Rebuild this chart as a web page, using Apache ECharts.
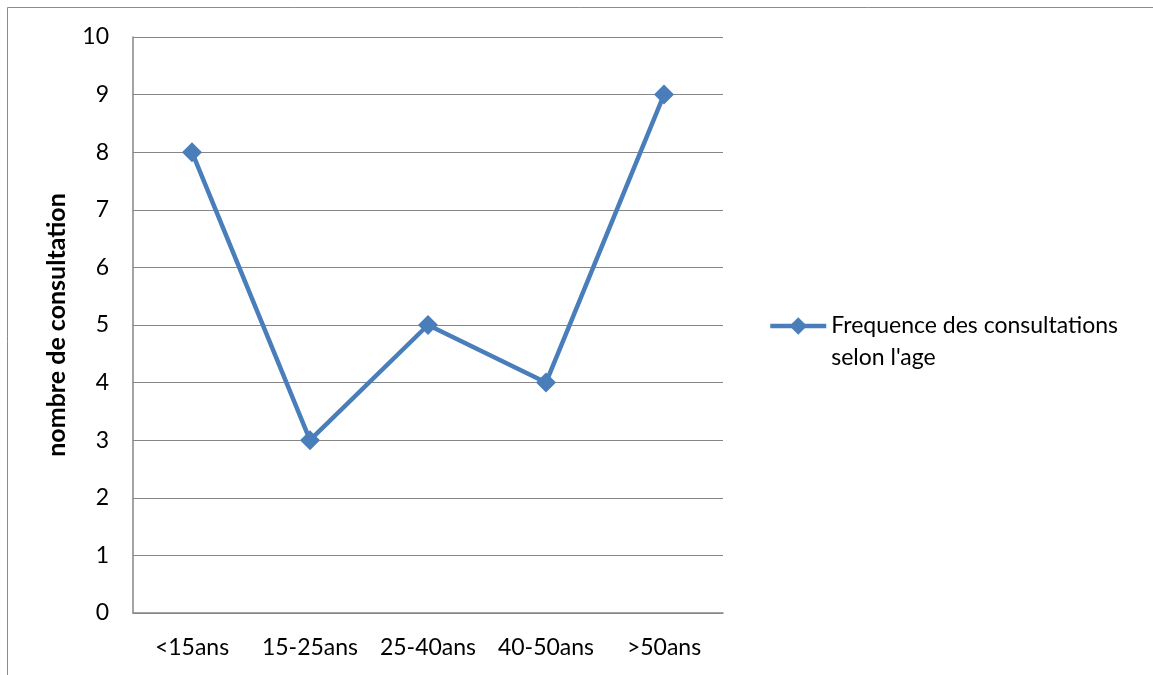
<!DOCTYPE html>
<html>
<head>
<meta charset="utf-8">
<script src="https://cdn.jsdelivr.net/npm/echarts@6/dist/echarts.min.js"></script>
<style>
  html, body { margin: 0; padding: 0; background: #fff; }
  #chart { width: 1153px; height: 675px; }
</style>
</head>
<body>
<div id="chart"></div>
<script>
// Age groups and number of consultations per group
const categories = ['<15ans', '15-25ans', '25-40ans', '40-50ans', '>50ans'];
const consultations = [8, 3, 5, 4, 9];
const seriesName = 'Frequence des consultations\nselon l\'age';
const yAxisTitle = 'nombre de consultation';

const FONT = 'Lato, "Open Sans", "Liberation Sans", sans-serif';
const GREY = '#868686';
const BLUE = '#4A7EBB';

const chart = echarts.init(document.getElementById('chart'), null, { renderer: 'canvas' });

chart.setOption({
  animation: false,
  backgroundColor: '#fff',
  textStyle: { fontFamily: FONT, color: '#000' },
  graphic: [{
    // frame around the chart area
    type: 'rect',
    shape: { x: 7.5, y: 7.5, width: 1200, height: 720 },
    style: { fill: 'none', stroke: '#8c8c8c', lineWidth: 1 },
    silent: true
  }],
  grid: { left: 133, top: 37, width: 590, height: 576 },
  legend: {
    left: 763,
    top: 273,
    orient: 'vertical',
    itemWidth: 56,
    itemHeight: 22,
    itemGap: 0,
    lineStyle: { width: 4.5, color: BLUE },
    itemStyle: { color: BLUE },
    // a leading blank line keeps the first line level with the legend icon
    formatter: (name) => ' \n' + name,
    textStyle: {
      fontFamily: FONT,
      fontSize: 23,
      color: '#000',
      lineHeight: 32
    },
    data: [seriesName]
  },
  xAxis: {
    type: 'category',
    data: categories,
    boundaryGap: true,
    axisLine: { lineStyle: { color: GREY, width: 1.5 } },
    axisTick: { show: false },
    axisLabel: { fontFamily: FONT, fontSize: 23, color: '#000', margin: 23, interval: 0 }
  },
  yAxis: {
    type: 'value',
    min: 0,
    max: 10,
    interval: 1,
    name: yAxisTitle,
    nameLocation: 'middle',
    nameGap: 64,
    nameTextStyle: { fontFamily: FONT, fontSize: 25, fontWeight: 'bold', color: '#000' },
    axisLine: { show: true, lineStyle: { color: GREY, width: 1.5 } },
    axisTick: { show: false },
    axisLabel: { fontFamily: FONT, fontSize: 23, color: '#000', margin: 24 },
    splitLine: { lineStyle: { color: GREY, width: 1 } }
  },
  series: [{
    name: seriesName,
    type: 'line',
    data: consultations,
    symbol: 'diamond',
    symbolSize: 20,
    itemStyle: { color: BLUE },
    lineStyle: { color: BLUE, width: 4.5 }
  }]
});
</script>
</body>
</html>
